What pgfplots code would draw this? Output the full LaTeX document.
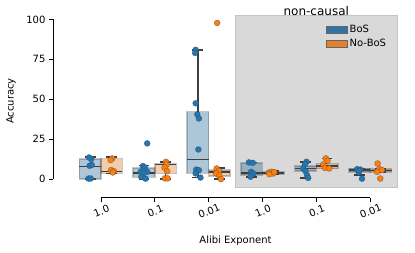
\documentclass[border=0pt]{standalone}
\usepackage{pgfplots}
\pgfplotsset{compat=1.18}
\usepgfplotslibrary{statistics}
\usepackage{fontspec}
\setmainfont{DejaVu Sans}
\definecolor{bfill}{HTML}{3274A1}
\definecolor{ofill}{HTML}{E1812C}
\definecolor{bpt}{HTML}{1F77B4}
\definecolor{opt}{HTML}{FF7F0E}
\definecolor{lgray}{HTML}{3F3F3F}
\definecolor{spanc}{HTML}{D9D9D9}
\definecolor{spane}{HTML}{C4C4C4}
\newcommand{\bx}[7]{\addplot[forget plot, #7, boxplot prepared={draw direction=y, draw position=#1, lower whisker=#2, lower quartile=#3, median=#4, upper quartile=#5, upper whisker=#6, box extend=0.4, whisker extend=0.2}] coordinates {};}
\begin{document}
\begin{tikzpicture}
\useasboundingbox (0,0) rectangle (415pt,253pt);
\begin{axis}[
  at={(74pt,66pt)}, anchor=south west,
  scale only axis, width=323pt, height=172pt,
  xmin=-0.5, xmax=5.5, ymin=-4.9, ymax=102.8,
  clip=false,
  axis lines*=left,
  axis line style={draw=none},
  axis x line shift=10.7pt,
  axis y line shift=21pt,
  tick align=outside,
  major tick length=4pt,
  tick style={black, line width=0.8pt},
  xtick={0,1,2,3,4,5},
  xticklabels={1.0,0.1,0.01,1.0,0.1,0.01},
  ytick={0,25,50,75,100},
  /pgf/number format/assume math mode=true,
  tick label style={font=\fontsize{10}{12}\selectfont},
  xticklabel style={rotate=22, anchor=center, yshift=-9pt, xshift=-3pt},
  label style={font=\fontsize{10}{12}\selectfont},
  xlabel={Alibi Exponent},
  ylabel={Accuracy},
  xlabel style={at={(axis description cs:0.5,-0.311)}, anchor=center},
  ylabel style={at={(axis description cs:-0.195,0.5)}, anchor=center},
  boxplot/draw direction=y,
  boxplot/every box/.style={draw=lgray, draw opacity=0.3, line width=1.5pt},
  boxplot/every median/.style={draw=lgray, draw opacity=1, line width=1.5pt},
  boxplot/every whisker/.style={draw=lgray, draw opacity=1, line width=1.5pt},
  bB/.style={fill=bfill, fill opacity=0.4},
  bO/.style={fill=ofill, fill opacity=0.4},
  legend image code/.code={\draw[#1] (0pt,-3.4pt) rectangle (21pt,3.4pt);},
  legend style={at={(axis description cs:0.77,0.965)}, anchor=north west, draw=none, fill=none, font=\fontsize{10}{12}\selectfont, row sep=1pt},
  legend cell align=left,
]
% shaded non-causal region
\addplot[forget plot, fill=spanc, draw=spane, line width=0.8pt] coordinates {(2.5,-4.9) (5.5,-4.9) (5.5,102.8) (2.5,102.8)} -- cycle;
% boxes: pos, lw, q1, med, q3, uw
\bx{-0.2}{0}{0}{8}{12.6}{13.8}{bB}
\bx{0.2}{3.6}{3.6}{4.8}{12.8}{13.8}{bO}
\bx{0.8}{0}{1.1}{4.0}{7.1}{8.5}{bB}
\bx{1.2}{0}{3.6}{9.2}{9.8}{10.9}{bO}
\bx{1.8}{1}{3.6}{12.4}{42.3}{81}{bB}
\bx{2.2}{0}{1.9}{4.6}{5.6}{7}{bO}
\bx{2.8}{1.5}{2.5}{4}{10.2}{10.5}{bB}
\bx{3.2}{2.8}{3.2}{4}{4.6}{5}{bO}
\bx{3.8}{0.8}{5}{6.7}{8.2}{10.9}{bB}
\bx{4.2}{6.7}{6.6}{8.4}{9.8}{13}{bO}
\bx{4.8}{2.5}{4.6}{5.7}{6.7}{6.7}{bB}
\bx{5.2}{4.6}{4.6}{5.4}{6.3}{6.3}{bO}
% strip points
\addplot[forget plot, only marks, mark=*, mark size=3pt, mark options={fill=bpt, draw=lgray, draw opacity=0.7, line width=0.3pt}] coordinates {
(-0.18,12.6) (-0.22,13.6) (-0.21,8.4) (-0.17,8.9) (-0.23,0.4) (-0.19,0.4)
(0.86,22.4) (0.78,8.2) (0.82,7.3) (0.74,4.6) (0.86,4.6) (0.79,3.6) (0.75,1.5) (0.83,0.3)
(1.76,81) (1.75,79) (1.76,47.5) (1.79,40.6) (1.82,38) (1.81,18.6) (1.77,6) (1.82,5.6) (1.76,3.6) (1.85,1)
(2.75,10.5) (2.82,10.2) (2.79,4.6) (2.83,3.6) (2.78,1.5)
(3.82,10.9) (3.79,9.4) (3.76,6.7) (3.80,5) (3.83,2.5) (3.85,0.8)
(4.76,6.3) (4.82,6.0) (4.79,4.2) (4.85,0.3) (4.80,5.2)
};
\addplot[forget plot, only marks, mark=*, mark size=3pt, mark options={fill=opt, draw=lgray, draw opacity=0.7, line width=0.3pt}] coordinates {
(0.21,13) (0.18,12) (0.19,5.7) (0.24,5) (0.22,4.2)
(1.21,10.9) (1.22,9.2) (1.18,7.3) (1.23,5) (1.19,0.5) (1.24,0.5)
(2.16,97.8) (2.15,6.7) (2.19,5.2) (2.14,3.6) (2.2,2.1) (2.23,0)
(3.12,4.2) (3.17,4.6) (3.20,3.6) (3.13,3.1) (3.22,4.4)
(4.18,13) (4.21,11.5) (4.13,9.2) (4.16,7.1) (4.24,6.7)
(5.14,9.8) (5.17,6.3) (5.22,5.7) (5.13,4.6) (5.19,0.4)
};
\addlegendimage{fill=bfill, draw=lgray!80, line width=0.8pt}
\addlegendentry{BoS}
\addlegendimage{fill=ofill, draw=lgray!80, line width=0.8pt}
\addlegendentry{No-BoS}
% trimmed, offset spines
\draw[black, line width=0.8pt] ([yshift=-10.7pt]axis cs:0,-4.9) -- ([yshift=-10.7pt]axis cs:5,-4.9);
\draw[black, line width=0.8pt] ([xshift=-21pt]axis cs:-0.5,0) -- ([xshift=-21pt]axis cs:-0.5,100);
\node[font=\fontsize{12}{14}\selectfont, anchor=base, yshift=-1pt] at (axis cs:4,102.8) {non-causal};
\end{axis}
\end{tikzpicture}
\end{document}
